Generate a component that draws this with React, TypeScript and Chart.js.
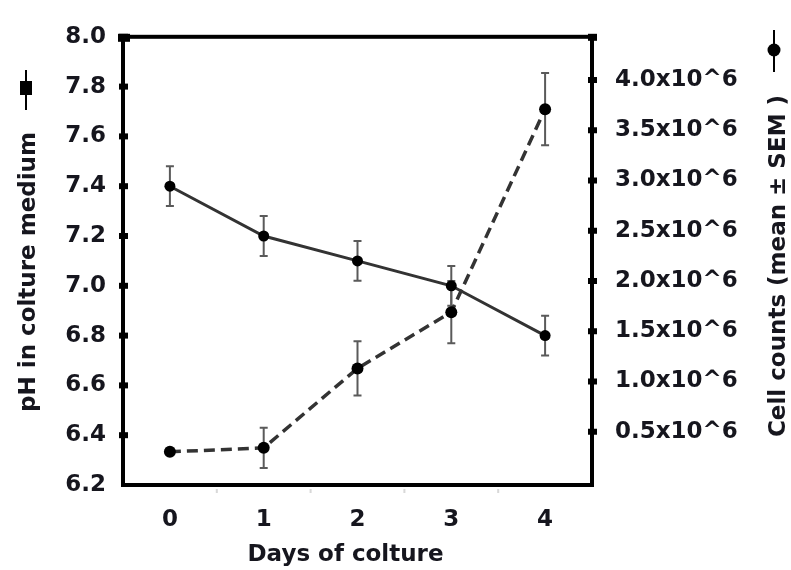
import { useEffect, useRef } from "react";
import { Chart, registerables } from "chart.js";

Chart.register(...registerables);

// ---- data ----
const days = [0, 1, 2, 3, 4];
const phMean = [7.4, 7.2, 7.1, 7.0, 6.8];
const phSem = [0.08, 0.08, 0.08, 0.08, 0.08];
const cellMean = [0.3e6, 0.34e6, 1.13e6, 1.69e6, 3.71e6];
const cellSem = [0, 0.2e6, 0.27e6, 0.31e6, 0.36e6];
const phTicks = [6.2, 6.4, 6.6, 6.8, 7.0, 7.2, 7.4, 7.6, 7.8, 8.0];
const cellTicks = [0.5e6, 1.0e6, 1.5e6, 2.0e6, 2.5e6, 3.0e6, 3.5e6, 4.0e6];
const dayTicks = [0, 1, 2, 3, 4];
const halfDayMarks = [0.5, 1.5, 2.5, 3.5];
const xTitle = "Days of colture";
const phTitle = "pH in colture medium";
const cellTitle = "Cell counts (mean ± SEM )";

const FONT = "'DejaVu Sans', Verdana, sans-serif";
const TEXT = "#16161e";

const decorPlugin = {
  id: "decor",
  beforeDatasetsDraw(chart: any) {
    const ctx = chart.ctx;
    const x = chart.scales.x;
    const sets = [
      { mean: phMean, sem: phSem, scale: chart.scales.yL },
      { mean: cellMean, sem: cellSem, scale: chart.scales.yR },
    ];
    ctx.save();
    ctx.strokeStyle = "#5a5a5a";
    ctx.lineWidth = 2;
    for (const s of sets) {
      days.forEach((d, i) => {
        if (!s.sem[i]) return;
        const px = x.getPixelForValue(d);
        const t = s.scale.getPixelForValue(s.mean[i] + s.sem[i]);
        const b = s.scale.getPixelForValue(s.mean[i] - s.sem[i]);
        ctx.beginPath();
        ctx.moveTo(px, t);
        ctx.lineTo(px, b);
        ctx.moveTo(px - 4, t);
        ctx.lineTo(px + 4, t);
        ctx.moveTo(px - 4, b);
        ctx.lineTo(px + 4, b);
        ctx.stroke();
      });
    }
    ctx.restore();
  },
  afterDatasetsDraw(chart: any) {
    const ctx = chart.ctx;
    const a = chart.chartArea;
    const yL = chart.scales.yL;
    const yR = chart.scales.yR;
    const x = chart.scales.x;
    ctx.save();
    // frame
    ctx.strokeStyle = "#000";
    ctx.lineWidth = 4;
    ctx.strokeRect(a.left, a.top, a.right - a.left, a.bottom - a.top);
    ctx.fillStyle = "#000";
    // left tick blocks
    phTicks.forEach((v) => {
      if (v === phTicks[0]) return;
      const py = yL.getPixelForValue(v);
      ctx.fillRect(a.left - 4, py - 3, 9, 6);
    });
    // right tick blocks
    cellTicks.forEach((v) => {
      const py = yR.getPixelForValue(v);
      ctx.fillRect(a.right - 4, py - 3, 9, 6);
    });
    ctx.fillRect(a.right - 4, a.top - 3, 9, 7);
    ctx.fillRect(a.left - 5, a.top - 3, 12, 8);
    // faint bottom marks
    ctx.fillStyle = "#d8d8d8";
    halfDayMarks.forEach((v) => {
      const px = x.getPixelForValue(v);
      ctx.fillRect(px - 1, a.bottom + 4, 2, 4);
    });
    ctx.restore();
  },
  afterDraw(chart: any) {
    const ctx = chart.ctx;
    const a = chart.chartArea;
    ctx.save();
    ctx.fillStyle = TEXT;
    ctx.font = `bold 23px ${FONT}`;
    ctx.textAlign = "center";
    ctx.textBaseline = "middle";
    // x title
    ctx.fillText(xTitle, (a.left + a.right) / 2 - 12, 555);
    // left title
    ctx.save();
    ctx.translate(29, 272);
    ctx.rotate(-Math.PI / 2);
    ctx.fillText(phTitle, 0, 0);
    ctx.restore();
    // right title
    ctx.save();
    ctx.translate(779, 266);
    ctx.rotate(-Math.PI / 2);
    ctx.fillText(cellTitle, 0, 0);
    ctx.restore();
    // legend symbols
    ctx.strokeStyle = "#000";
    ctx.fillStyle = "#000";
    ctx.lineWidth = 2;
    ctx.beginPath();
    ctx.moveTo(26, 70);
    ctx.lineTo(26, 110);
    ctx.stroke();
    ctx.fillRect(20, 81, 12, 14);
    ctx.beginPath();
    ctx.moveTo(774, 30);
    ctx.lineTo(774, 72);
    ctx.stroke();
    ctx.beginPath();
    ctx.arc(774, 50, 6.5, 0, Math.PI * 2);
    ctx.fill();
    ctx.restore();
  },
};

export default function App() {
  const ref = useRef<HTMLCanvasElement | null>(null);
  useEffect(() => {
    if (!ref.current) return;
    const tickFont = { family: FONT, size: 23, weight: "bold" as const };
    const chart = new Chart(ref.current, {
      type: "line",
      data: {
        datasets: [
          {
            label: phTitle,
            data: days.map((d, i) => ({ x: d, y: phMean[i] })),
            xAxisID: "x",
            yAxisID: "yL",
            borderColor: "#333",
            borderWidth: 3,
            pointRadius: 5.5,
            pointBackgroundColor: "#000",
            pointBorderWidth: 0,
            tension: 0,
          },
          {
            label: cellTitle,
            data: days.map((d, i) => ({ x: d, y: cellMean[i] })),
            xAxisID: "x",
            yAxisID: "yR",
            borderColor: "#333",
            borderWidth: 3.5,
            borderDash: [11, 6],
            pointRadius: 6,
            pointBackgroundColor: "#000",
            pointBorderWidth: 0,
            tension: 0,
          },
        ],
      },
      options: {
        responsive: false,
        animation: false,
        layout: { padding: { top: 29, left: 0, right: 0, bottom: 0 } },
        plugins: { legend: { display: false }, tooltip: { enabled: false } },
        scales: {
          x: {
            type: "linear",
            position: "bottom",
            min: -0.5,
            max: 4.5,
            grid: { display: false, drawTicks: false },
            border: { display: false },
            afterBuildTicks: (s: any) => {
              s.ticks = dayTicks.map((v) => ({ value: v }));
            },
            afterFit: (s: any) => {
              s.height = 85;
            },
            ticks: {
              font: tickFont,
              color: TEXT,
              padding: 21,
              maxRotation: 0,
              callback: (v: any) => String(v),
            },
          },
          yL: {
            type: "linear",
            position: "left",
            min: 6.2,
            max: 8.0,
            grid: { display: false, drawTicks: false },
            border: { display: false },
            afterBuildTicks: (s: any) => {
              s.ticks = phTicks.map((v) => ({ value: v }));
            },
            afterFit: (s: any) => {
              s.width = 123;
            },
            ticks: {
              font: tickFont,
              color: TEXT,
              padding: 17,
              callback: (v: any) => Number(v).toFixed(1),
            },
          },
          yR: {
            type: "linear",
            position: "right",
            min: -0.03e6,
            max: 4.43e6,
            grid: { display: false, drawTicks: false },
            border: { display: false },
            afterBuildTicks: (s: any) => {
              s.ticks = cellTicks.map((v) => ({ value: v }));
            },
            afterFit: (s: any) => {
              s.width = 199;
            },
            ticks: {
              font: tickFont,
              color: TEXT,
              padding: 23,
              callback: (v: any) => (Number(v) / 1e6).toFixed(1) + "x10^6",
            },
          },
        },
      },
      plugins: [decorPlugin],
    });
    return () => chart.destroy();
  }, []);
  return (
    <div style={{ position: "absolute", left: 0, top: 0, width: 791, height: 570, background: "#fff" }}>
      <canvas ref={ref} width={791} height={570} />
    </div>
  );
}
